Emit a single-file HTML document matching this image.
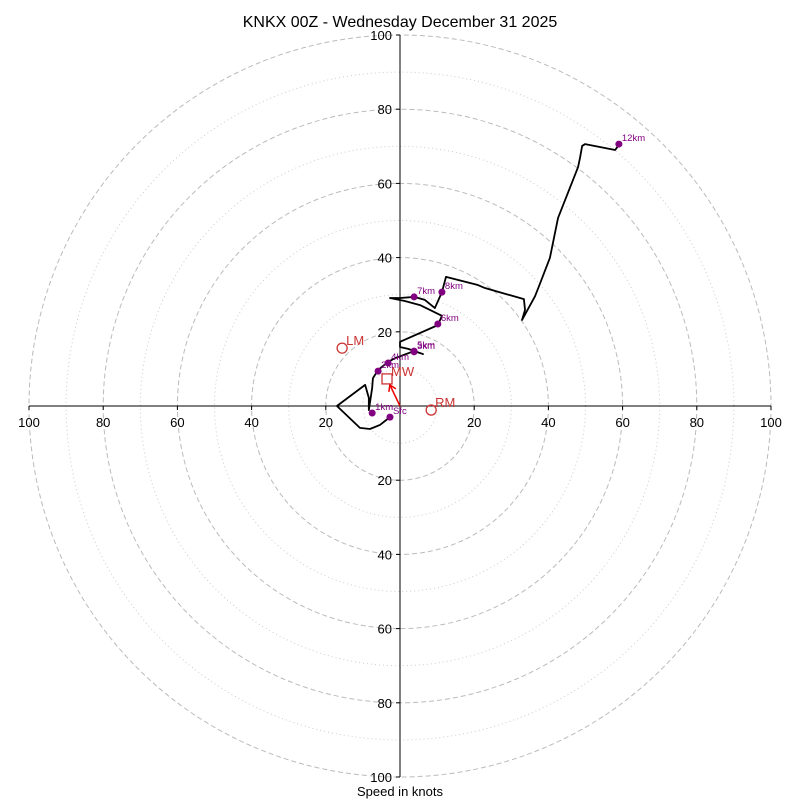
<!DOCTYPE html>
<html><head><meta charset="utf-8"><style>
body{margin:0;background:#fff}
svg text{font-family:"Liberation Sans","DejaVu Sans",sans-serif}
</style></head><body>
<svg id="c" width="800" height="800" viewBox="0 0 800 800">
<text x="400" y="27" text-anchor="middle" font-size="16">KNKX 00Z - Wednesday December 31 2025</text>
<text x="400" y="796" text-anchor="middle" font-size="13">Speed in knots</text>
<g id="rings"></g><g id="axes"></g><g id="plot"></g>
</svg>
<script>
const ringValues=[10,20,30,40,50,60,70,80,90,100];
const tickValues=[20,40,60,80,100];
const hodoU=[-2.7,-5.4,-8.1,-10.8,-17.0,-9.4,-8.4,-8.4,-7.5,-7.3,-5.9,-3.2,-1.3,3.8,6.2,2.2,0,0,10.2,11.3,5.4,1.3,-2.7,0,3.8,6.7,9.4,11.3,12.4,21.0,22.9,33.4,33.7,32.9,36.4,37.7,40.4,42.6,48.0,48.5,49.1,49.9,58.0,59.0];
const hodoV=[-3.0,-5.1,-6.2,-5.9,0,5.7,2.2,-1.1,4.9,7.5,9.7,11.9,12.9,14.8,14.0,15.4,15.9,17.3,21.8,24.3,27.2,28.3,29.1,29.1,29.4,28.6,26.4,30.7,34.8,32.6,31.8,28.8,25.9,23.2,29.6,32.9,39.9,50.7,64.4,66.8,70.1,70.6,69.0,70.4];
const markerLabels=['Sfc','1km','2km','4km','3km','5km','6km','7km','8km','12km'];
const markerU=[-2.7,-7.5,-5.9,-3.2,3.8,3.8,10.2,3.8,11.3,59.0];
const markerV=[-3.0,-1.9,9.4,11.6,14.6,14.8,22.1,29.4,30.7,70.6];
const motionLabels=['LM','RM','MW'];
const motionU=[-15.6,8.4,-3.5];
const motionV=[15.6,-1.1,7.3];
const CX=400,CY=406,K=3.71;
const sx=u=>CX+u*K, sy=v=>CY-v*K;
const NS='http://www.w3.org/2000/svg';
function mk(tag,attrs,parent,text){const e=document.createElementNS(NS,tag);for(const a in attrs)e.setAttribute(a,attrs[a]);if(text!==undefined)e.textContent=text;document.getElementById(parent).appendChild(e);return e;}
ringValues.forEach(r=>{
 const dashed=r%20===0;
 const c=mk('circle',{cx:CX,cy:CY,r:r*K,fill:'none',stroke:dashed?'#bbb':'#ccc','stroke-width':1,'stroke-dasharray':dashed?'5,3':'1,3'},'rings');
 
 
});
let l=mk('line',{x1:sx(-100),y1:CY,x2:sx(100),y2:CY,stroke:'#000','stroke-width':1},'axes');


l=mk('line',{x1:CX,y1:sy(100),x2:CX,y2:sy(-100),stroke:'#000','stroke-width':1},'axes');


tickValues.forEach(t=>{
 [-1,1].forEach(s=>{
  mk('line',{x1:sx(s*t),y1:CY,x2:sx(s*t),y2:CY+4,stroke:'#000'},'axes');
  let tx=mk('text',{x:sx(s*t),y:CY+21,'text-anchor':'middle','font-size':13},'axes',String(t));
  
  
  mk('line',{x1:CX-4,y1:sy(s*t),x2:CX,y2:sy(s*t),stroke:'#000'},'axes');
  tx=mk('text',{x:CX-8,y:sy(s*t)+5,'text-anchor':'end','font-size':13},'axes',String(t));
  
  
 });
});
const p=mk('polyline',{points:hodoU.map((u,i)=>sx(u)+','+sy(hodoV[i])).join(' '),fill:'none',stroke:'#000','stroke-width':1.8,'stroke-linejoin':'round'},'plot');


// mean wind arrow
const a=mk('line',{x1:CX,y1:CY,x2:sx(motionU[2]*0.8),y2:sy(motionV[2]*0.8),stroke:'#e00','stroke-width':1.5},'plot');


mk('path',{d:`M${sx(motionU[2]*0.78)},${sy(motionV[2]*0.78)} l-1,7 M${sx(motionU[2]*0.78)},${sy(motionV[2]*0.78)} l6,4`,stroke:'#e00','stroke-width':1.5,fill:'none'},'plot');
motionLabels.forEach((n,i)=>{
 let s;
 if(n==='MW') s=mk('rect',{x:sx(motionU[i])-5,y:sy(motionV[i])-5,width:10,height:10,fill:'none',stroke:'#c33','stroke-width':1.3},'plot');
 else s=mk('circle',{cx:sx(motionU[i]),cy:sy(motionV[i]),r:5,fill:'none',stroke:'#c33','stroke-width':1.3},'plot');
 
 
 const t=mk('text',{x:sx(motionU[i])+4,y:sy(motionV[i])-3,'font-size':13,fill:'#c33'},'plot',n);
 
 
});
markerLabels.forEach((n,i)=>{
 const c=mk('circle',{cx:sx(markerU[i]),cy:sy(markerV[i]),r:3.5,fill:'#800080'},'plot');
 
 
 const t=mk('text',{x:sx(markerU[i])+3,y:sy(markerV[i])-3,'font-size':9.5,fill:'#800080'},'plot',n);
 
 
});
</script>
</body></html>
